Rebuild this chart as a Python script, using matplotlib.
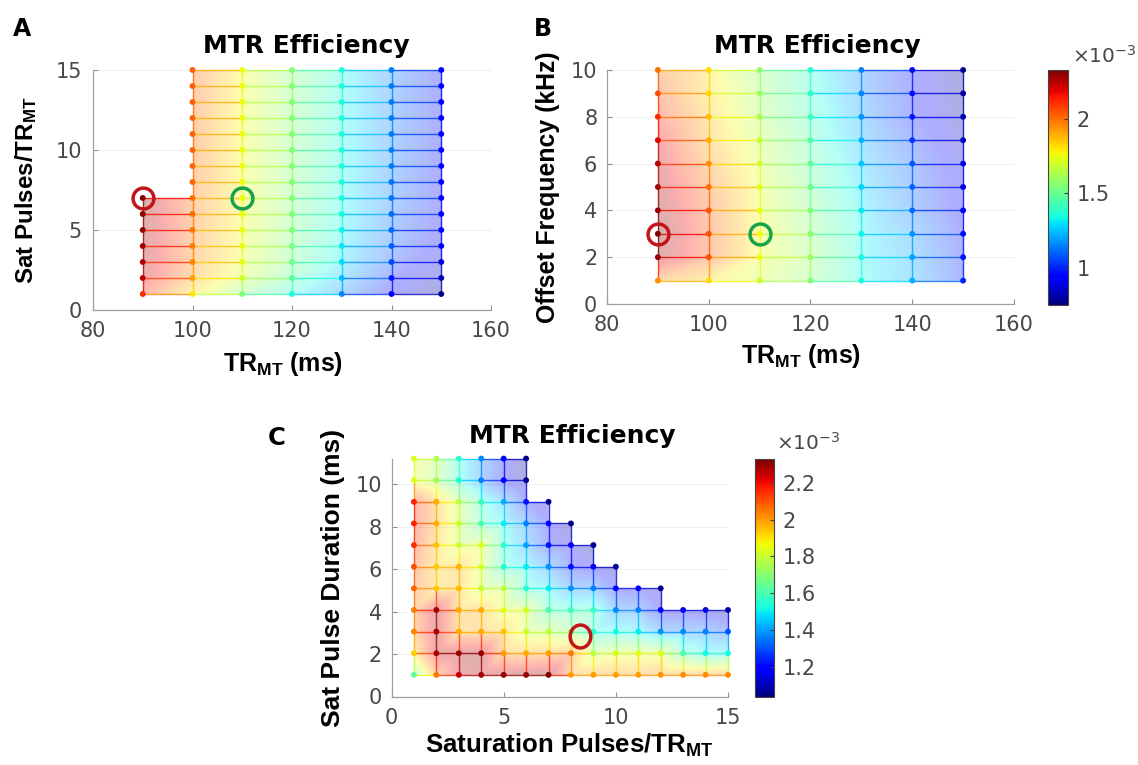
import numpy as np
import matplotlib
matplotlib.use("Agg")
import matplotlib.pyplot as plt
import matplotlib.tri as mtri
from matplotlib.collections import LineCollection
from matplotlib.colors import Normalize
from matplotlib.path import Path
from matplotlib.transforms import Affine2D
import matplotlib.cm as cm

plt.rcParams['mathtext.fontset'] = 'custom'
plt.rcParams['mathtext.rm'] = 'Liberation Sans:bold'
plt.rcParams['mathtext.it'] = 'Liberation Sans:bold'
plt.rcParams['mathtext.bf'] = 'Liberation Sans:bold'

# ---------------- data (MTR efficiency, units of 1e-3) ----------------
# Panel A: columns = TR_MT (ms), rows = saturation pulses / TR_MT
a_tr = [90, 100, 110, 120, 130, 140, 150]
a_pulses = [1, 2, 3, 4, 5, 6, 7, 8, 9, 10, 11, 12, 13, 14, 15]
a_eff_90 = [2.12, 2.24, 2.26, 2.28, 2.29, 2.31, 2.33]
a_eff_100 = [1.80, 1.92, 1.97, 1.98, 1.99, 2.00, 2.00, 2.01, 2.01, 2.02, 2.02, 2.02, 2.03, 2.03, 2.03]
a_eff_110 = [1.55, 1.70, 1.74, 1.75, 1.75, 1.76, 1.76, 1.76, 1.76, 1.76, 1.76, 1.76, 1.76, 1.76, 1.76]
a_eff_120 = [1.36, 1.47, 1.52, 1.53, 1.54, 1.54, 1.55, 1.55, 1.55, 1.55, 1.55, 1.55, 1.55, 1.55, 1.55]
a_eff_130 = [1.16, 1.24, 1.29, 1.31, 1.33, 1.34, 1.34, 1.35, 1.35, 1.35, 1.35, 1.35, 1.35, 1.35, 1.35]
a_eff_140 = [0.92, 0.99, 1.06, 1.09, 1.11, 1.12, 1.13, 1.13, 1.14, 1.14, 1.14, 1.14, 1.14, 1.14, 1.14]
a_eff_150 = [0.77, 0.84, 0.88, 0.91, 0.93, 0.94, 0.95, 0.95, 0.95, 0.95, 0.95, 0.95, 0.95, 0.95, 0.95]
a_red_pick = (90, 7)
a_green_pick = (110, 7)

# Panel B: columns = TR_MT (ms), rows = offset frequency (kHz)
b_tr = [90, 100, 110, 120, 130, 140, 150]
b_offset = [1, 2, 3, 4, 5, 6, 7, 8, 9, 10]
b_eff_90 = [1.95, 2.30, 2.33, 2.30, 2.28, 2.24, 2.20, 2.12, 2.06, 2.00]
b_eff_100 = [1.82, 2.05, 2.05, 2.04, 2.00, 1.95, 1.90, 1.87, 1.83, 1.82]
b_eff_110 = [1.70, 1.75, 1.76, 1.75, 1.74, 1.70, 1.68, 1.63, 1.60, 1.58]
b_eff_120 = [1.55, 1.60, 1.56, 1.54, 1.50, 1.48, 1.45, 1.42, 1.39, 1.37]
b_eff_130 = [1.35, 1.34, 1.33, 1.31, 1.28, 1.26, 1.22, 1.18, 1.16, 1.15]
b_eff_140 = [1.22, 1.20, 1.18, 1.12, 1.10, 1.08, 1.03, 0.98, 0.97, 0.96]
b_eff_150 = [1.00, 0.98, 0.96, 0.93, 0.90, 0.88, 0.85, 0.82, 0.80, 0.78]
b_red_pick = (90, 3)
b_green_pick = (110, 3)

# Panel C: rows = sat pulse duration (ms), columns = saturation pulses / TR_MT
c_pulses = [1, 2, 3, 4, 5, 6, 7, 8, 9, 10, 11, 12, 13, 14, 15]
c_duration = [1.02, 2.04, 3.06, 4.08, 5.10, 6.12, 7.14, 8.16, 9.18, 10.20, 11.22]
c_eff_d1 = [1.64, 2.05, 2.25, 2.28, 2.30, 2.30, 2.33, 2.00, 2.00, 2.00, 2.00, 2.01, 2.02, 2.02, 2.03]
c_eff_d2 = [1.93, 2.28, 2.29, 2.30, 2.00, 1.98, 2.00, 2.05, 1.78, 1.83, 1.84, 1.84, 1.60, 1.52, 1.52]
c_eff_d3 = [2.03, 2.28, 1.98, 1.98, 1.95, 1.80, 1.78, 1.70, 1.55, 1.52, 1.50, 1.38, 1.37, 1.36, 1.30]
c_eff_d4 = [2.04, 2.28, 1.98, 1.98, 1.84, 1.82, 1.60, 1.58, 1.58, 1.37, 1.36, 1.18, 1.16, 1.15, 1.08]
c_eff_d5 = [2.08, 1.94, 1.96, 1.80, 1.78, 1.55, 1.50, 1.38, 1.36, 1.20, 1.18, 1.07]
c_eff_d6 = [2.10, 1.94, 1.97, 1.82, 1.55, 1.50, 1.38, 1.22, 1.17, 1.07]
c_eff_d7 = [2.15, 1.95, 1.80, 1.83, 1.55, 1.40, 1.22, 1.18, 1.06]
c_eff_d8 = [2.17, 1.98, 1.80, 1.60, 1.50, 1.36, 1.20, 1.06]
c_eff_d9 = [2.17, 1.98, 1.78, 1.57, 1.42, 1.22, 1.06]
c_eff_d10 = [1.84, 1.74, 1.54, 1.36, 1.19, 1.06]
c_eff_d11 = [1.84, 1.76, 1.55, 1.37, 1.20, 1.06]
c_red_pick = (8.42, 2.87)

ab_clim = (0.75, 2.33)
c_clim = (1.035, 2.33)
ab_cbar_ticks = [1, 1.5, 2]
ab_cbar_labels = ['1', '1.5', '2']
c_cbar_ticks = [1.2, 1.4, 1.6, 1.8, 2.0, 2.2]
c_cbar_labels = ['1.2', '1.4', '1.6', '1.8', '2', '2.2']

# ---------------- figure ----------------
W, H = 1138, 765
fig = plt.figure(figsize=(W / 100, H / 100), dpi=100)
cmap = plt.get_cmap('jet').copy()
cmap.set_bad((1, 1, 1, 0))
TICK_COLOR = '#484848'
RED = '#c2141a'
GREEN = '#17a34a'


def add_ax(l, t, r, b):
    return fig.add_axes([l / W, 1 - b / H, (r - l) / W, (b - t) / H])


def style_axes(ax, xlim, ylim, xticks, yticks, xpad=8, ypad=8):
    ax.set_xlim(*xlim)
    ax.set_ylim(*ylim)
    ax.set_xticks(xticks)
    ax.set_yticks(yticks)
    for s in ['top', 'right']:
        ax.spines[s].set_visible(False)
    for s in ['left', 'bottom']:
        ax.spines[s].set_color('#a0a0a0')
        ax.spines[s].set_linewidth(0.9)
    ax.tick_params(direction='in', length=3.5, width=0.8, color='#909090',
                   labelsize=15, labelcolor=TICK_COLOR)
    ax.tick_params(axis='x', pad=xpad)
    ax.tick_params(axis='y', pad=ypad)
    for lab in ax.get_xticklabels() + ax.get_yticklabels():
        lab.set_family('DejaVu Sans')
    ax.yaxis.grid(True, color='#f0f0f0', lw=0.8)
    ax.set_axisbelow(True)


def draw_mesh(ax, columns, norm):
    """columns: list of (x, ys, vals) with points indexed by (col, row)."""
    pts = {}
    for i, (x, ys, vals) in enumerate(columns):
        for j, v in enumerate(vals):
            pts[(i, j)] = (x, ys[j], v)
    keys = list(pts.keys())
    index = {k: n for n, k in enumerate(keys)}
    X = np.array([pts[k][0] for k in keys], float)
    Y = np.array([pts[k][1] for k in keys], float)
    V = np.array([pts[k][2] for k in keys], float)
    tris = []
    segs, segv = [], []
    for (i, j) in keys:
        a = (i, j)
        r = (i + 1, j)
        u = (i, j + 1)
        d = (i + 1, j + 1)
        if r in pts:
            segs.append([pts[a][:2], pts[r][:2]])
            segv.append(0.5 * (pts[a][2] + pts[r][2]))
        if u in pts:
            segs.append([pts[a][:2], pts[u][:2]])
            segv.append(0.5 * (pts[a][2] + pts[u][2]))
        if r in pts and u in pts and d in pts:
            tris.append([index[a], index[r], index[d]])
            tris.append([index[a], index[d], index[u]])
    tri = mtri.Triangulation(X, Y, np.array(tris))
    interp = mtri.LinearTriInterpolator(tri, V)
    gx = np.linspace(X.min(), X.max(), 500)
    gy = np.linspace(Y.min(), Y.max(), 400)
    GX, GY = np.meshgrid(gx, gy)
    Z = interp(GX, GY)
    ax.imshow(Z, extent=(gx[0], gx[-1], gy[0], gy[-1]), origin='lower',
              cmap=cmap, norm=norm, alpha=0.32, interpolation='bilinear',
              aspect='auto', zorder=1)
    lc = LineCollection(segs, colors=cmap(norm(np.array(segv))), linewidths=1.0,
                        alpha=0.8, zorder=2, clip_on=False)
    ax.add_collection(lc)
    ax.scatter(X, Y, c=V, cmap=cmap, norm=norm, s=18, linewidths=0, zorder=3,
               clip_on=False)


def colorbar(l, t, r, b, norm, ticks, labels):
    cax = add_ax(l, t, r, b)
    cb = fig.colorbar(cm.ScalarMappable(norm=norm, cmap=cmap), cax=cax, ticks=ticks)
    cb.ax.set_yticklabels(labels)
    cb.outline.set_linewidth(0.8)
    cb.outline.set_edgecolor('#444444')
    cax.tick_params(direction='in', length=3, width=0.8, color='#404040',
                    labelsize=15, labelcolor=TICK_COLOR, pad=6)
    for lab in cax.get_yticklabels():
        lab.set_family('DejaVu Sans')
    return cax


def ftext(x, y, s, **kw):
    return fig.text(x / W, 1 - y / H, s, **kw)


norm_ab = Normalize(*ab_clim)
norm_c = Normalize(*c_clim)
circle_ms = 15.0

# ---------- Panel A ----------
axA = add_ax(93, 70, 491, 310)
style_axes(axA, (80, 160), (0, 15), [80, 100, 120, 140, 160], [0, 5, 10, 15])
a_cols = [a_eff_90, a_eff_100, a_eff_110, a_eff_120, a_eff_130, a_eff_140, a_eff_150]
draw_mesh(axA, [(x, a_pulses, v) for x, v in zip(a_tr, a_cols)], norm_ab)
axA.plot(*a_red_pick, 'o', ms=circle_ms, mfc='none', mec=RED, mew=2.5, zorder=5, clip_on=False)
axA.plot(*a_green_pick, 'o', ms=circle_ms, mfc='none', mec=GREEN, mew=2.5, zorder=5, clip_on=False)

# ---------- Panel B ----------
axB = add_ax(607, 70, 1014, 304)
style_axes(axB, (80, 160), (0, 10), [80, 100, 120, 140, 160], [0, 2, 4, 6, 8, 10], ypad=7)
b_cols = [b_eff_90, b_eff_100, b_eff_110, b_eff_120, b_eff_130, b_eff_140, b_eff_150]
draw_mesh(axB, [(x, b_offset, v) for x, v in zip(b_tr, b_cols)], norm_ab)
axB.plot(*b_red_pick, 'o', ms=circle_ms, mfc='none', mec=RED, mew=2.5, zorder=5)
axB.plot(*b_green_pick, 'o', ms=circle_ms, mfc='none', mec=GREEN, mew=2.5, zorder=5)
colorbar(1048, 70, 1068, 305, norm_ab, ab_cbar_ticks, ab_cbar_labels)

# ---------- Panel C ----------
axC = add_ax(391.5, 459, 728, 696.5)
style_axes(axC, (0, 15), (0, 11.2), [0, 5, 10, 15], [0, 2, 4, 6, 8, 10], ypad=7)
c_rows = [c_eff_d1, c_eff_d2, c_eff_d3, c_eff_d4, c_eff_d5, c_eff_d6,
          c_eff_d7, c_eff_d8, c_eff_d9, c_eff_d10, c_eff_d11]
c_columns = []
for i, x in enumerate(c_pulses):
    ys, vs = [], []
    for d, row in zip(c_duration, c_rows):
        if i < len(row):
            ys.append(d)
            vs.append(row[i])
    c_columns.append((x, ys, vs))
draw_mesh(axC, c_columns, norm_c)
ell = Path(Affine2D().scale(0.9, 1.0).transform(Path.unit_circle().vertices),
           Path.unit_circle().codes)
axC.plot(*c_red_pick, marker=ell, ms=16.5, mfc='none', mec=RED, mew=2.5, zorder=5)
colorbar(755, 459, 774, 697, norm_c, c_cbar_ticks, c_cbar_labels)

# ---------- text ----------
bold_dv = dict(family='DejaVu Sans', weight='bold', color='black')
bold_lib = dict(family='Liberation Sans', weight='bold', color='black')

ftext(13, 36, 'A', fontsize=17, ha='left', va='baseline', **bold_dv)
ftext(534, 36, 'B', fontsize=17, ha='left', va='baseline', **bold_dv)
ftext(268, 445, 'C', fontsize=17.5, ha='left', va='baseline', **bold_dv)

ftext(306, 53, 'MTR Efficiency', fontsize=18, ha='center', va='baseline', **bold_dv)
ftext(817, 53, 'MTR Efficiency', fontsize=18, ha='center', va='baseline', **bold_dv)
ftext(572, 443, 'MTR Efficiency', fontsize=18, ha='center', va='baseline', **bold_dv)

ftext(283, 371, r'TR$_{\rm MT}$ (ms)', fontsize=18, ha='center', va='baseline', **bold_lib)
ftext(801, 363, r'TR$_{\rm MT}$ (ms)', fontsize=18, ha='center', va='baseline', **bold_lib)
ftext(569, 753, r'Saturation Pulses/TR$_{\rm MT}$', fontsize=18.6, ha='center', va='baseline', **bold_lib)

ftext(33, 190, r'Sat Pulses/TR$_{\rm MT}$', fontsize=17.4, rotation=90, rotation_mode='anchor',
      ha='center', va='baseline', **bold_lib)
ftext(555, 187, 'Offset Frequency (kHz)', fontsize=17.9, rotation=90, rotation_mode='anchor',
      ha='center', va='baseline', **bold_lib)
ftext(340, 578, 'Sat Pulse Duration (ms)', fontsize=19, rotation=90, rotation_mode='anchor',
      ha='center', va='baseline', **bold_lib)

ftext(1072, 63, r'×10$^{-3}$', fontsize=14.5, ha='left', va='baseline', color=TICK_COLOR,
      family='DejaVu Sans', math_fontfamily='dejavusans')
ftext(776, 450, r'×10$^{-3}$', fontsize=14.5, ha='left', va='baseline', color=TICK_COLOR,
      family='DejaVu Sans', math_fontfamily='dejavusans')

fig.savefig('out.png', dpi=100)
